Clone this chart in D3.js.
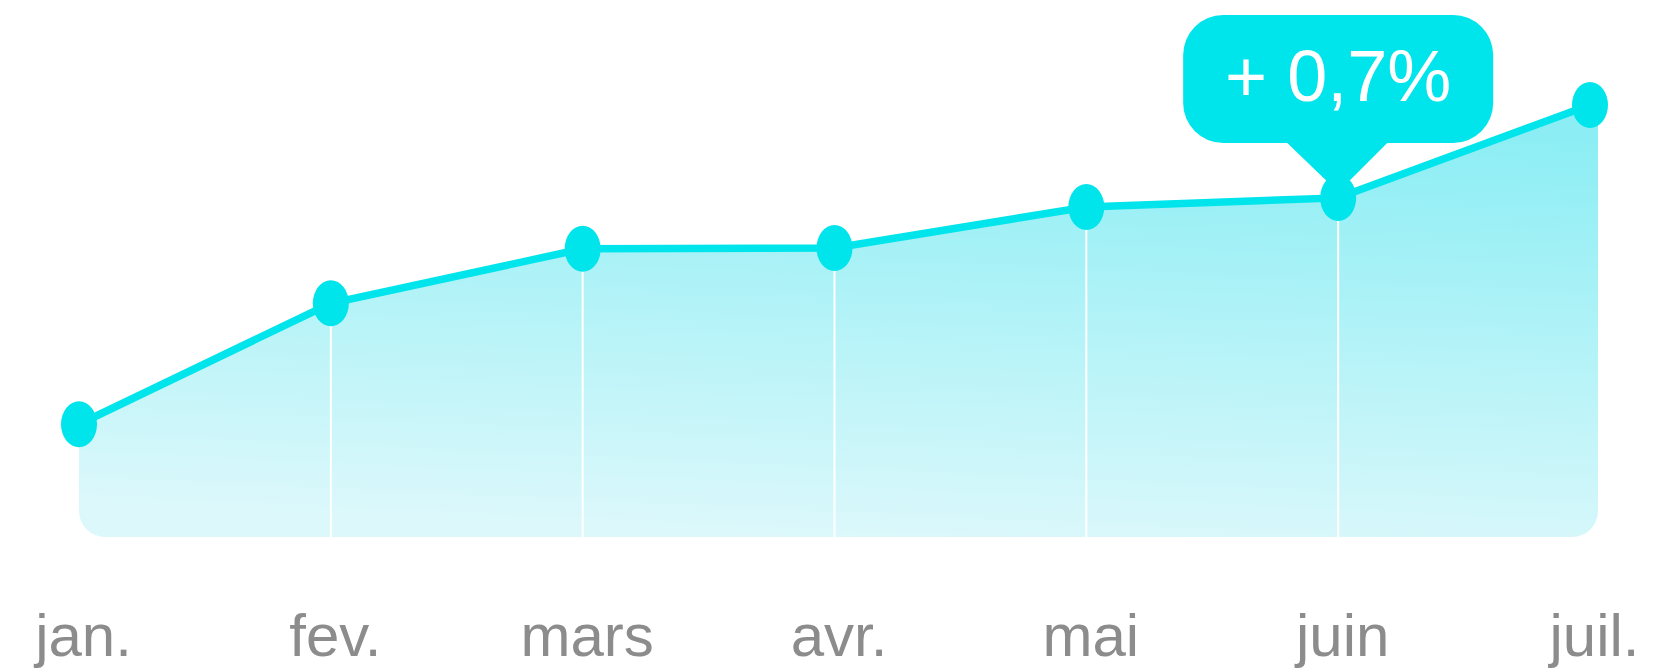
<!DOCTYPE html>
<html>
<head>
<meta charset="utf-8">
<script src="https://cdn.jsdelivr.net/npm/d3@7"></script>
<style>
  body { margin: 0; background: #fff; }
  text { font-family: "Liberation Sans", Arial, sans-serif; }
</style>
</head>
<body>
<div id="chart"></div>
<script>
// mois
var months = ["jan.", "fev.", "mars", "avr.", "mai", "juin", "juil."];
// valeurs (indice)
var values = [26.1, 54.1, 66.7, 66.9, 76.4, 78.5, 100];
// bulle
var tipMonth = "juin";
var tipLabel = "+ 0,7%";

var data = months.map(function(m, i) { return {m: m, v: values[i]}; });

var W = 1661, H = 672;
var svg = d3.select("#chart")
    .append("svg")
    .attr("width", W)
    .attr("height", H);

// échelles
var x = d3.scalePoint()
    .domain(months)
    .range([79, 1590]);

var y = d3.scaleLinear()
    .domain([0, 100])
    .range([537, 105]);

var cyan = "#00e5eb";

// dégradé
var defs = svg.append("defs");
var grad = defs.append("linearGradient")
    .attr("id", "fill")
    .attr("gradientUnits", "userSpaceOnUse")
    .attr("x1", 830).attr("y1", y(100))
    .attr("x2", 810).attr("y2", y(0));
grad.append("stop").attr("offset", 0).attr("stop-color", "#8ceef4");
grad.append("stop").attr("offset", 1).attr("stop-color", "#dcf8fb");

// coins arrondis en bas
var last = months.length - 1;
defs.append("clipPath").attr("id", "clip")
    .append("rect")
    .attr("x", x(months[0]))
    .attr("y", -40)
    .attr("width", x(months[last]) + 8 - x(months[0]))
    .attr("height", y(0) + 40)
    .attr("rx", 26).attr("ry", 26);

var area = d3.area()
    .x(function(d, i) { return x(d.m) + (i === last ? 8 : 0); })
    .y0(y(0))
    .y1(function(d) { return y(d.v); });

svg.append("path")
    .datum(data)
    .attr("clip-path", "url(#clip)")
    .attr("fill", "url(#fill)")
    .attr("d", area);

// lignes verticales blanches
svg.append("g")
    .selectAll("line")
    .data(data.slice(1, last))
    .join("line")
    .attr("x1", function(d) { return x(d.m); })
    .attr("x2", function(d) { return x(d.m); })
    .attr("y1", function(d) { return y(d.v); })
    .attr("y2", y(0))
    .attr("stroke", "#fff")
    .attr("stroke-width", 2);

// courbe
var line = d3.line()
    .x(function(d) { return x(d.m); })
    .y(function(d) { return y(d.v); });

svg.append("path")
    .datum(data)
    .attr("fill", "none")
    .attr("stroke", cyan)
    .attr("stroke-width", 7.5)
    .attr("d", line);

// bulle
var tip = data.find(function(d) { return d.m === tipMonth; });
var tx = x(tip.m), ty = y(tip.v);
var g = svg.append("g");
g.append("rect")
    .attr("x", tx - 155)
    .attr("y", 15)
    .attr("width", 310)
    .attr("height", 128)
    .attr("rx", 40).attr("ry", 40)
    .attr("fill", cyan);
g.append("path")
    .attr("d", "M" + (tx - 54) + ",140 L" + (tx + 52) + ",140 L" + tx + "," + (ty - 6) + "Z")
    .attr("fill", cyan);
g.append("text")
    .attr("x", tx)
    .attr("y", 101)
    .attr("text-anchor", "middle")
    .attr("fill", "#fff")
    .attr("font-size", 72)
    .text(tipLabel);

// points
svg.append("g")
    .selectAll("ellipse")
    .data(data)
    .join("ellipse")
    .attr("cx", function(d) { return x(d.m); })
    .attr("cy", function(d) { return y(d.v); })
    .attr("rx", 18)
    .attr("ry", 23)
    .attr("fill", cyan);

// axe x
var xAxis = d3.axisBottom(x).tickSize(0).tickPadding(0);
var ax = svg.append("g")
    .attr("transform", "translate(4,611)")
    .call(xAxis);
ax.select(".domain").remove();
ax.selectAll("text")
    .attr("fill", "#8c8c8c")
    .attr("font-size", 60)
    .attr("font-family", "Liberation Sans, Arial, sans-serif")
    .attr("dy", 0)
    .attr("y", 45);
</script>
</body>
</html>
